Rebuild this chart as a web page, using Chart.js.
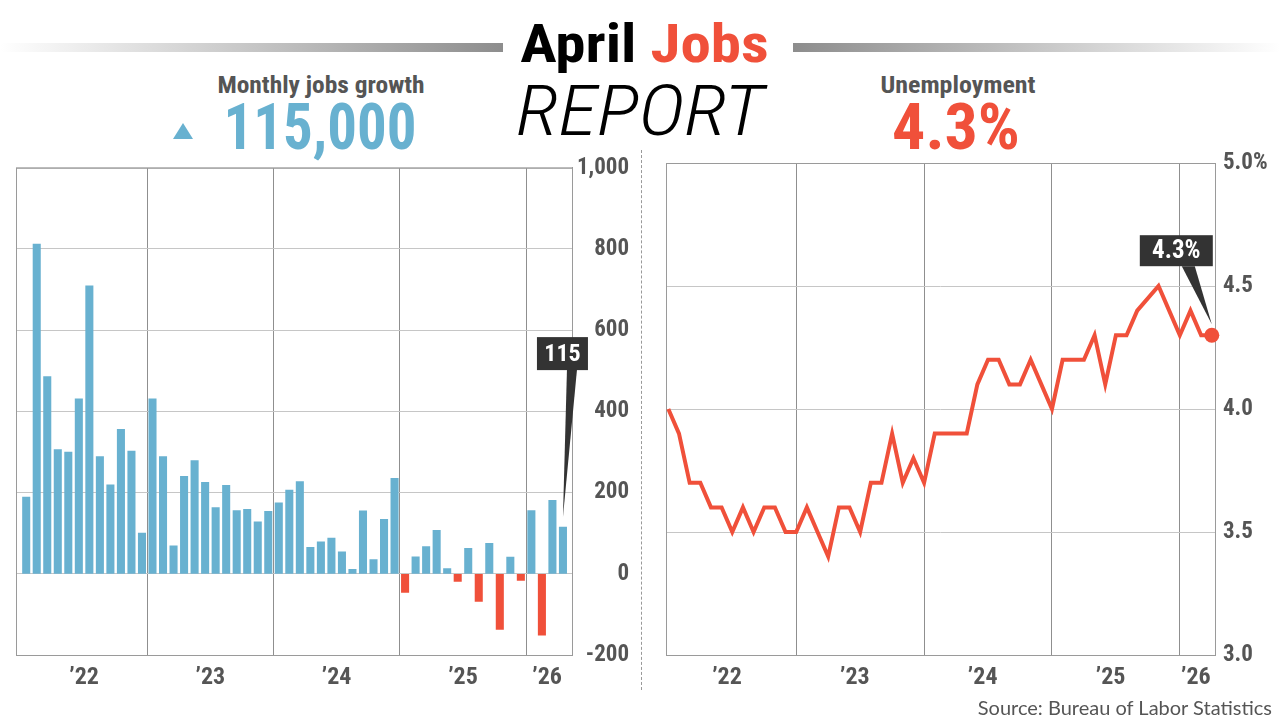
<!DOCTYPE html>
<html>
<head>
<meta charset="utf-8">
<script src="https://cdn.jsdelivr.net/npm/chart.js@4.4.1/dist/chart.umd.min.js"></script>
<style>
  body { margin: 0; width: 1280px; height: 722px; background: #fff; position: relative; overflow: hidden;
         font-family: 'Liberation Sans Narrow', 'Roboto Condensed', 'DejaVu Sans Condensed', Roboto, sans-serif; }
  .abs { position: absolute; white-space: nowrap; }
  .rule { position: absolute; top: 43px; height: 9px; }
  #ruleL { left: 0; width: 503px; background: linear-gradient(to right, rgba(140,140,140,0), #8d8d8d); }
  #ruleR { left: 793px; width: 487px; background: linear-gradient(to right, #8d8d8d, rgba(140,140,140,0)); }
  #title1 { left: 444px; width: 401px; top: 14px; text-align: center; font-weight: bold; font-size: 54px; line-height: 60px; color: #000; transform: scaleX(1.13); }
  #title1 span { color: #f0503a; }
  #title2 { left: 437px; width: 406px; top: 74px; text-align: center; font-style: italic; font-weight: 300; font-size: 70px; line-height: 74px; color: #000; transform: scaleX(1.14); }
  .head { top: 70px; font-weight: bold; font-size: 24px; line-height: 30px; color: #555; text-align: center; }
  .big { top: 96px; font-weight: bold; font-size: 64px; line-height: 64px; text-align: center; }
  #tri { left: 173px; top: 123px; width: 0; height: 0; border-left: 10px solid transparent; border-right: 10px solid transparent; border-bottom: 16px solid #68b1d0; }
  #sep { left: 641px; top: 150px; height: 540px; border-left: 1px dashed #999; }
  #source { right: 8px; top: 695px; font-family: Lato, 'Liberation Sans', sans-serif; font-size: 20px; color: #555; }
  canvas { position: absolute; }
</style>
</head>
<body>
<div class="rule" id="ruleL"></div>
<div class="rule" id="ruleR"></div>
<div class="abs" id="title1">April <span>Jobs</span></div>
<div class="abs" id="title2">REPORT</div>
<div class="abs head" style="left:171px;width:300px;transform:scaleX(1.06);">Monthly jobs growth</div>
<div class="abs" id="tri"></div>
<div class="abs big" style="left:170px;width:300px;color:#68b1d0;transform:scaleX(0.92);">115,000</div>
<div class="abs head" style="left:808px;width:300px;transform:scaleX(1.08);">Unemployment</div>
<div class="abs big" style="left:806px;width:300px;color:#f0503a;transform:scaleX(1.03);">4.3%</div>
<div class="abs" id="sep"></div>
<canvas id="jobsChart" width="640" height="550" style="left:0;top:150px;"></canvas>
<canvas id="rateChart" width="630" height="560" style="left:650px;top:140px;"></canvas>
<div class="abs" id="source">Source: Bureau of Labor Statistics</div>

<script>
// months Jan 2022 .. Apr 2026
let months = [];
for (let y = 2022; y <= 2026; y++) {
    for (let m = 1; m <= 12; m++) {
        if (y === 2026 && m > 4) break;
        months.push(y + '-' + String(m).padStart(2, '0'));
    }
}

// monthly jobs change, thousands
let jobsGrowth = [
    189, 812, 486, 306, 300, 431, 709, 289, 219, 356, 302, 100,
    431, 289, 69, 240, 279, 225, 163, 218, 156, 159, 128, 154,
    175, 206, 227, 65, 79, 88, 54, 11, 155, 35, 134, 235,
    -46, 42, 67, 107, 13, -19, 63, -68, 75, -137, 41, -16,
    156, -151, 181, 115
];

// unemployment rate, % (no October 2025 reading)
let unemployment = [
    4.0, 3.9, 3.7, 3.7, 3.6, 3.6, 3.5, 3.6, 3.5, 3.6, 3.6, 3.5,
    3.5, 3.6, 3.5, 3.4, 3.6, 3.6, 3.5, 3.7, 3.7, 3.9, 3.7, 3.8,
    3.7, 3.9, 3.9, 3.9, 3.9, 4.1, 4.2, 4.2, 4.1, 4.1, 4.2, 4.1,
    4.0, 4.2, 4.2, 4.2, 4.3, 4.1, 4.3, 4.3, 4.4, null, 4.5, 4.4,
    4.3, 4.4, 4.3, 4.3
];

let yearLabels = ['\u201922', '\u201923', '\u201924', '\u201925', '\u201926'];
let yearMid = [5.5, 17.5, 29.5, 41.5, 49.5];
let jobsTicks = [-200, 0, 200, 400, 600, 800, 1000];
let rateTicks = [3.0, 3.5, 4.0, 4.5, 5.0];

const BLUE = '#68b1d0';
const RED = '#f0503a';
const FONT = "'Liberation Sans Narrow', 'Roboto Condensed', 'DejaVu Sans Condensed', Roboto, sans-serif";

Chart.defaults.font.family = FONT;
Chart.defaults.color = '#555';

// year axis: grid lines at year starts, labels mid-year
function yearAxis(min, max, starts) {
    return {
        type: 'linear',
        min: min,
        max: max,
        offset: false,
        afterBuildTicks: s => {
            s.ticks = starts.concat(yearMid).sort((a, b) => a - b).map(v => ({ value: v }));
        },
        afterFit: s => { s.height = 45; },
        grid: {
            offset: false,
            color: c => (c.tick && starts.includes(c.tick.value)) ? '#8f8f8f' : 'rgba(0,0,0,0)',
            drawTicks: false
        },
        border: { display: true, color: '#9a9a9a' },
        ticks: {
            autoSkip: false,
            maxRotation: 0,
            padding: 9,
            color: '#555',
            font: { size: 24, weight: 'bold' },
            callback: v => {
                let k = yearMid.indexOf(v);
                return k >= 0 ? yearLabels[k] : '';
            }
        }
    };
}

// frame around the plot area
const frame = {
    id: 'frame',
    beforeDatasetsDraw(chart) {
        let a = chart.chartArea, ctx = chart.ctx;
        ctx.save();
        ctx.strokeStyle = '#9a9a9a';
        ctx.lineWidth = 1;
        ctx.strokeRect(a.left + 0.5, a.top + 0.5, a.right - a.left, a.bottom - a.top);
        ctx.restore();
    }
};

// dark label box with a pointer to the latest value
const callout = {
    id: 'callout',
    afterDatasetsDraw(chart, args, o) {
        let meta = chart.getDatasetMeta(0);
        let el = meta.data[o.index];
        let ax = el.x, ay = el.y;
        let ctx = chart.ctx;
        ctx.save();
        ctx.fillStyle = '#333';
        ctx.beginPath();
        ctx.moveTo(ax + o.base[0], ay + o.box[3]);
        ctx.lineTo(ax + o.base[1], ay + o.box[3]);
        ctx.lineTo(ax + o.tip[0], ay + o.tip[1]);
        ctx.closePath();
        ctx.fill();
        ctx.fillRect(ax + o.box[0], ay + o.box[1], o.box[2] - o.box[0], o.box[3] - o.box[1]);
        ctx.fillStyle = '#fff';
        ctx.font = 'bold ' + o.size + 'px ' + FONT;
        ctx.textAlign = 'center';
        ctx.textBaseline = 'middle';
        ctx.fillText(o.text, ax + (o.box[0] + o.box[2]) / 2, ay + (o.box[1] + o.box[3]) / 2 + 1);
        ctx.restore();
    }
};

let last = jobsGrowth.length - 1;

new Chart(document.getElementById('jobsChart'), {
    type: 'bar',
    data: {
        labels: months,
        datasets: [{
            data: jobsGrowth.map((v, i) => ({ x: i, y: v })),
            backgroundColor: jobsGrowth.map(v => v < 0 ? RED : BLUE),
            barThickness: 7.4
        }]
    },
    options: {
        responsive: false,
        animation: false,
        devicePixelRatio: 1,
        layout: { padding: { left: 16, top: 17, right: 11, bottom: 0 } },
        plugins: {
            legend: { display: false },
            tooltip: { enabled: false },
            callout: { index: last, text: String(jobsGrowth[last]), size: 24,
                       box: [-26, -190, 25, -157], base: [4, 14], tip: [0, -10] }
        },
        scales: {
            x: yearAxis(-0.97, 51.86, [11.5, 23.5, 35.5, 47.5]),
            y: {
                position: 'right',
                min: -200,
                max: 1000,
                afterBuildTicks: s => { s.ticks = jobsTicks.map(v => ({ value: v })); },
                afterFit: s => { s.width = 57; },
                grid: { color: '#c6c6c6', drawTicks: false },
                border: { display: true, color: '#9a9a9a' },
                ticks: {
                    padding: 4,
                    crossAlign: 'far',
                    font: { size: 23, weight: 'bold' },
                    callback: v => v.toLocaleString('en-US')
                }
            }
        }
    },
    plugins: [frame, callout]
});

let lastRate = unemployment.length - 1;

new Chart(document.getElementById('rateChart'), {
    type: 'line',
    data: {
        labels: months,
        datasets: [{
            data: unemployment.map((v, i) => ({ x: i, y: v })),
            borderColor: RED,
            borderWidth: 4,
            borderJoinStyle: 'miter',
            tension: 0,
            spanGaps: true,
            clip: 12,
            pointRadius: unemployment.map((v, i) => i === lastRate ? 7.5 : 0),
            pointBackgroundColor: RED,
            pointBorderWidth: 0
        }]
    },
    options: {
        responsive: false,
        animation: false,
        devicePixelRatio: 1,
        layout: { padding: { left: 16, top: 23, right: 0, bottom: 0 } },
        plugins: {
            legend: { display: false },
            tooltip: { enabled: false },
            callout: { index: lastRate, text: unemployment[lastRate].toFixed(1) + '%', size: 25,
                       box: [-72, -100, 1, -69], base: [-30, -17], tip: [0, -11] }
        },
        scales: {
            x: yearAxis(-0.22, 51.3, [12, 24, 36, 48]),
            y: {
                position: 'right',
                min: 3,
                max: 5,
                afterBuildTicks: s => { s.ticks = rateTicks.map(v => ({ value: v })); },
                afterFit: s => { s.width = 65; },
                grid: { color: '#c6c6c6', drawTicks: false },
                border: { display: true, color: '#9a9a9a' },
                ticks: {
                    padding: 8,
                    crossAlign: 'near',
                    font: { size: 23, weight: 'bold' },
                    callback: v => v === 5 ? '5.0%' : v.toFixed(1)
                }
            }
        }
    },
    plugins: [frame, callout]
});
</script>
</body>
</html>
